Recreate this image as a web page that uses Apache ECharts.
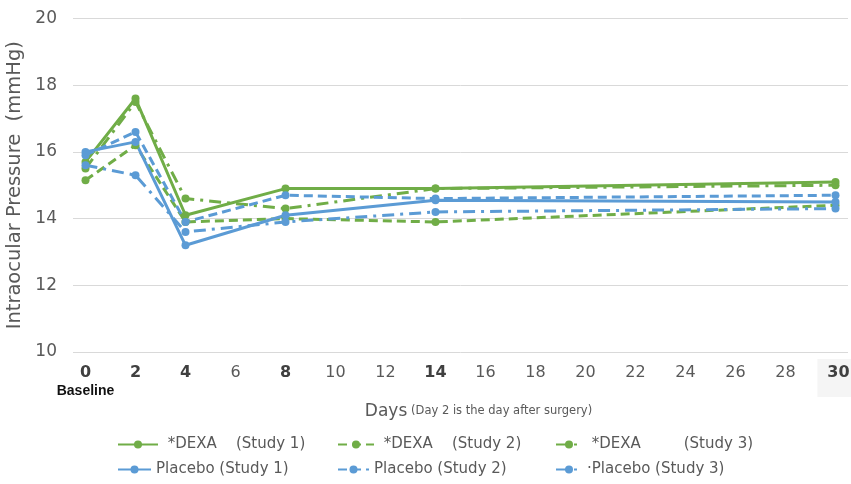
<!DOCTYPE html>
<html>
<head>
<meta charset="utf-8">
<script src="https://cdn.jsdelivr.net/npm/echarts@6/dist/echarts.min.js"></script>
<style>
  html, body { margin: 0; padding: 0; background: #ffffff; }
  #chart { width: 851px; height: 484px; }
</style>
</head>
<body>
<div id="chart"></div>
<script>
// ---- Data ----
const dayCategories = Array.from({ length: 31 }, (_, i) => String(i));
const days = [0, 2, 4, 8, 14, 30];
const boldDays = ['0', '2', '4', '8', '14', '30'];

const dexaStudy1 = [15.7, 17.6, 14.1, 14.9, 14.9, 15.1];
const dexaStudy2 = [15.15, 16.2, 13.9, 14.0, 13.9, 14.4];
const dexaStudy3 = [15.5, 17.5, 14.6, 14.3, 14.9, 15.0];
const placeboStudy1 = [16.0, 16.3, 13.2, 14.1, 14.55, 14.5];
const placeboStudy2 = [15.9, 16.6, 13.9, 14.7, 14.6, 14.7];
const placeboStudy3 = [15.6, 15.3, 13.6, 13.9, 14.2, 14.3];

const seriesNames = [
  ' *DEXA    (Study 1)',
  ' *DEXA    (Study 2)',
  ' *DEXA         (Study 3)',
  'Placebo (Study 1)',
  'Placebo (Study 2)',
  '·Placebo (Study 3)'
];

const GREEN = '#70AD47';
const BLUE = '#5B9BD5';
const DASH = [9, 5];
const DASHDOT = [12, 6, 3, 6];

const font = 'DejaVu Sans';

function mk(name, vals, color, type) {
  return {
    name: name,
    type: 'line',
    data: days.map((d, i) => [d, vals[i]]),
    symbol: 'circle',
    symbolSize: 8,
    lineStyle: { color: color, width: 3, type: type },
    itemStyle: { color: color },
    emphasis: { disabled: true },
    animation: false
  };
}

const legendPos = [
  { left: 112, top: 432, w: 40 },
  { left: 332, top: 432, w: 36 },
  { left: 550, top: 432, w: 26 },
  { left: 112, top: 457, w: 33 },
  { left: 332, top: 457, w: 31 },
  { left: 550, top: 457, w: 26 }
];

const chart = echarts.init(document.getElementById('chart'), null, { renderer: 'canvas' });
chart.setOption({
  backgroundColor: '#ffffff',
  animation: false,
  textStyle: { fontFamily: font },
  grid: { left: 73, right: 3, top: 18.5, bottom: 132, containLabel: false, outerBoundsMode: 'none' },
  legend: seriesNames.map((n, i) => ({
    data: [n],
    left: legendPos[i].left,
    top: legendPos[i].top,
    itemWidth: legendPos[i].w,
    itemHeight: 10,
    textStyle: { fontFamily: font, fontSize: 15, color: '#595959' },
    selectedMode: false
  })),
  xAxis: {
    type: 'category',
    data: dayCategories,
    boundaryGap: true,
    axisLine: { show: false },
    axisTick: { show: false },
    splitLine: { show: false },
    axisLabel: {
      interval: 1,
      margin: 7,
      fontFamily: font,
      fontSize: 16,
      color: '#595959',
      formatter: function (v) {
        if (v === '0') return '{b|0}\n{base|Baseline}';
        if (v === '30') return '{hl|30}';
        if (boldDays.indexOf(v) >= 0) return '{b|' + v + '}';
        return '{n|' + v + '}';
      },
      rich: {
        n: { fontFamily: font, fontSize: 16, color: '#595959', padding: [6, 0, 0, 0] },
        b: { fontFamily: font, fontSize: 16, fontWeight: 'bold', color: '#404040', padding: [6, 0, 0, 0] },
        hl: { fontFamily: font, fontSize: 16, fontWeight: 'bold', color: '#404040',
              backgroundColor: '#f5f5f5', padding: [6, 4, 16, 10] },
        base: { fontFamily: 'Liberation Sans', fontSize: 14, fontWeight: 'bold', color: '#111111', padding: [3, 0, 0, 0] }
      }
    },
    name: '{big|Days} {small|(Day 2 is the day after surgery)}',
    nameLocation: 'middle',
    nameGap: 40,
    nameTextStyle: {
      padding: [0, 0, 0, 36],
      rich: {
        big: { fontFamily: font, fontSize: 17, color: '#595959' },
        small: { fontFamily: font, fontSize: 11.5, color: '#595959' }
      }
    }
  },
  yAxis: {
    type: 'value',
    min: 10,
    max: 20,
    interval: 2,
    axisLine: { show: false },
    axisTick: { show: false },
    splitLine: { lineStyle: { color: '#d9d9d9', width: 1 } },
    axisLabel: { margin: 16, fontFamily: font, fontSize: 17, color: '#595959' },
    name: 'Intraocular Pressure  (mmHg)',
    nameLocation: 'middle',
    nameGap: 47,
    nameTextStyle: { fontFamily: font, fontSize: 19.5, color: '#595959' }
  },
  series: [
    mk(seriesNames[0], dexaStudy1, GREEN, 'solid'),
    mk(seriesNames[1], dexaStudy2, GREEN, DASH),
    mk(seriesNames[2], dexaStudy3, GREEN, DASHDOT),
    mk(seriesNames[3], placeboStudy1, BLUE, 'solid'),
    mk(seriesNames[4], placeboStudy2, BLUE, DASH),
    mk(seriesNames[5], placeboStudy3, BLUE, DASHDOT)
  ]
});
</script>
</body>
</html>
